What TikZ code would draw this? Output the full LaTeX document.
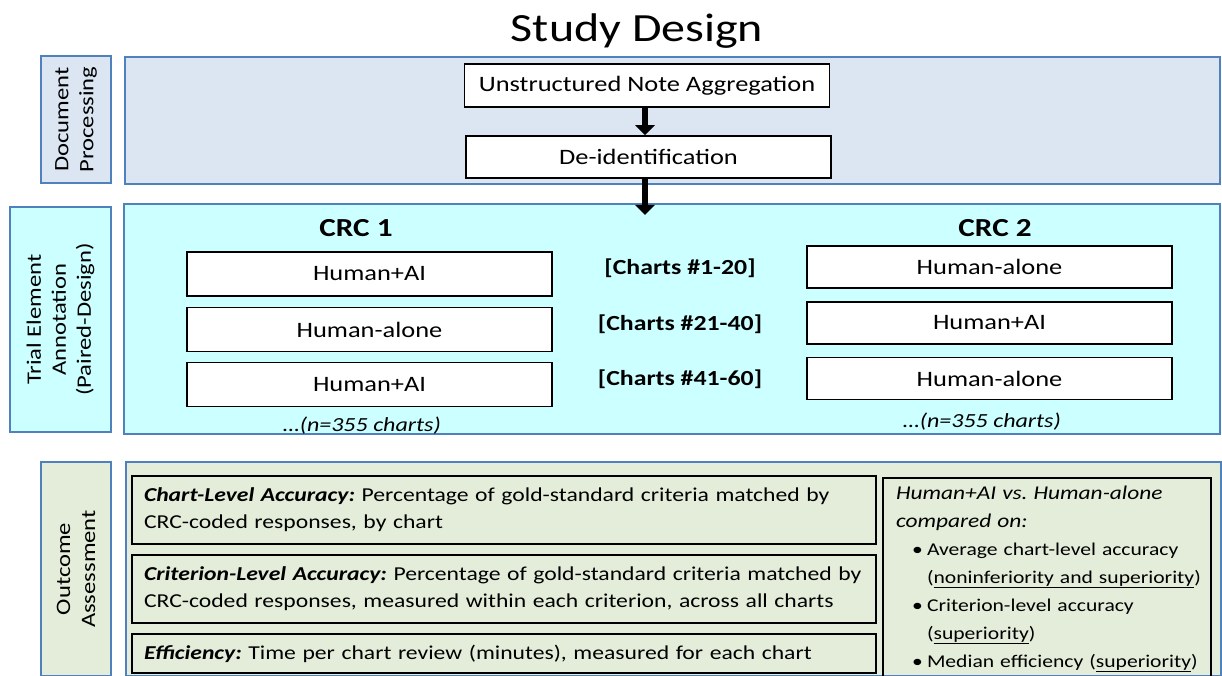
\documentclass[tikz,border=0pt]{standalone}
\usepackage{fontspec}
\setmainfont{Carlito}[FakeStretch=1.2]
\usetikzlibrary{positioning, arrows.meta, calc}
\definecolor{bandBlue}{HTML}{DCE6F2}
\definecolor{bandCyan}{HTML}{CCFFFF}
\definecolor{bandGreen}{HTML}{E4EDDA}
\definecolor{edgeBlue}{HTML}{4F81BD}
\frenchspacing

\begin{document}
\begin{tikzpicture}[x=1pt, y=-1pt,
  band/.style={draw=edgeBlue, line width=1.2pt, inner sep=0pt},
  side/.style={band, rotate=90, align=center,
               font=\fontsize{20.5}{25}\selectfont},
  stepbox/.style={draw=black, line width=1.6pt, fill=white, inner sep=0pt,
                  minimum width=365pt, font=\fontsize{22}{26}\selectfont},
  armbox/.style={stepbox, font=\fontsize{22}{26}\selectfont},
  crc/.style={font=\bfseries\fontsize{26}{30}\selectfont},
  charts/.style={font=\bfseries\fontsize{21.5}{25}\selectfont},
  count/.style={font=\itshape\fontsize{20}{24}\selectfont},
  outbox/.style={draw=black, line width=1.3pt, inner xsep=12pt, inner ysep=0pt,
                 align=left, font=\fontsize{19.7}{27}\selectfont},
  flow/.style={-{Triangle[width=19pt, length=10pt]}, line width=6.5pt},
]
  \useasboundingbox (0,0) rectangle (1222,676);

  % title
  \node[font=\fontsize{40}{44}\selectfont] (title) at (637,31) {Study Design};

  % document processing
  \node[band, fill=bandBlue, minimum width=1095pt, minimum height=127pt] (docband) at (672.5,120.5) {};
  \node[side, fill=bandBlue, minimum width=127pt, minimum height=70pt] (doclbl) at (76,119.5) {Document\\Processing};
  \node[stepbox, minimum height=43pt] (agg) at (647,85.5) {Unstructured Note Aggregation};
  \node[stepbox, minimum height=42pt] (deid) at (648.5,157) {De-identification};

  % trial element annotation
  \node[band, fill=bandCyan, minimum width=1096pt, minimum height=230pt] (trialband) at (672,319) {};
  \node[side, fill=bandCyan, minimum width=225pt, minimum height=101pt] (triallbl) at (60.5,319.5) {Trial Element\\Annotation\\(Paired-Design)};
  \coordinate (trialin) at (645,215);

  \draw[flow] (645,107) coordinate (aggout) -- (aggout |- deid.north);
  \draw[flow] (deid.south -| trialin) -- (trialin);

  \node[crc] (crcA) at (356,228) {CRC 1};
  \node[crc] (crcB) at (995,228) {CRC 2};

  \node[armbox, minimum height=44pt] (a1) at (369.5,274) {Human+AI};
  \node[armbox, minimum height=44pt] (a2) at (369.5,329.5) {Human-alone};
  \node[armbox, minimum height=44pt] (a3) at (369.5,384.5) {Human+AI};
  \node[count] (nA) at (362,426) {\dots(n=355 charts)};

  \node[armbox, minimum height=42pt] (b1) at (989.5,267) {Human-alone};
  \node[armbox, minimum height=42pt] (b2) at (989.5,323) {Human+AI};
  \node[armbox, minimum height=42pt] (b3) at (989.5,378.5) {Human-alone};
  \node[count] (nB) at (982,422) {\dots(n=355 charts)};

  \node[charts] (c1) at (680,268) {[Charts \#1-20]};
  \node[charts] (c2) at (680,324) {[Charts \#21-40]};
  \node[charts] (c3) at (680,379) {[Charts \#41-60]};

  % outcome assessment
  \node[band, fill=bandGreen, minimum width=1095pt, minimum height=214pt] (outband) at (673.5,569) {};
  \node[side, fill=bandGreen, minimum width=214pt, minimum height=70pt] (outlbl) at (76,569) {Outcome\\Assessment};

  \node[outbox, minimum width=744pt, minimum height=68pt, text width=720pt] (chartacc) at (504,510)
    {\textbf{\textit{Chart-Level Accuracy:}} Percentage of gold-standard criteria matched by\\CRC-coded responses, by chart};
  \node[outbox, minimum width=744pt, minimum height=68pt, text width=720pt] (critacc) at (504,589)
    {\textbf{\textit{Criterion-Level Accuracy:}} Percentage of gold-standard criteria matched by\\CRC-coded responses, measured within each criterion, across all charts};
  \node[outbox, minimum width=744pt, minimum height=39pt, text width=720pt] (effic) at (504,653.5)
    {\textbf{\textit{Efficiency:}} Time per chart review (minutes), measured for each chart};

  \node[outbox, minimum width=328pt, minimum height=202pt, text width=302pt, inner xsep=13pt, font=\fontsize{18}{28}\selectfont] (compare) at (1047,579)
    {{\fontsize{19.5}{28}\selectfont\itshape Human+AI vs. Human-alone}\\
     {\fontsize{19.5}{28}\selectfont\itshape compared on:}\\
     \hspace*{16pt}\makebox[15pt][l]{\textbullet}Average chart-level accuracy\\
     \hspace*{31pt}(\underline{noninferiority and superiority})\\
     \hspace*{16pt}\makebox[15pt][l]{\textbullet}Criterion-level accuracy\\
     \hspace*{31pt}(\underline{superiority})\\
     \hspace*{16pt}\makebox[15pt][l]{\textbullet}Median efficiency (\underline{superiority})};
\end{tikzpicture}
\end{document}
